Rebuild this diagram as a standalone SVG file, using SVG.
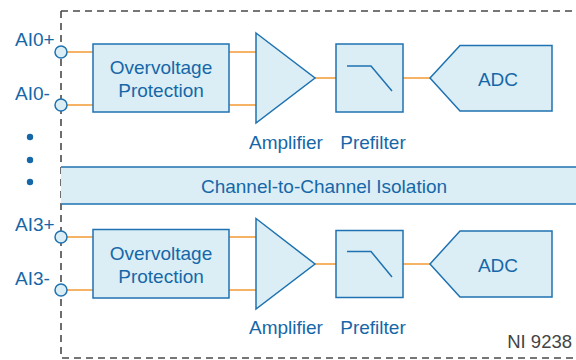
<svg xmlns="http://www.w3.org/2000/svg" width="576" height="360" viewBox="0 0 576 360">
<style>
.blk{fill:#dbeef5;stroke:#1f72b1;stroke-width:1.5}
.wire{stroke:#f39a34;stroke-width:1.5;fill:none}
.term{fill:#dbeef5;stroke:#1f72b1;stroke-width:1.5}
.t{font-family:"Liberation Sans",Arial,sans-serif;font-size:19px;fill:#1667a8}
.c{text-anchor:middle}
.dash{stroke:#4a4a4a;stroke-width:1.6;stroke-dasharray:7 5;fill:none}
.fl{stroke:#1f72b1;stroke-width:1.5;fill:none}
</style>
<rect x="0" y="0" width="576" height="360" fill="#fff"/>
<g id="boundary">
<path class="dash" d="M61,11 H576 M61,11 V358 H576"/>
</g>
<g id="connectors">
<path class="wire" d="M61,52 H93 M61,105 H93 M229,52 H256 M229,105 H256 M315,78 H336 M403,78 H430"/>
<path class="wire" d="M61,237 H93 M61,290 H93 M229,237 H256 M229,290 H256 M315,264 H336 M403,264 H430"/>
</g>
<g id="isolation">
<rect x="61" y="167" width="520" height="37" fill="#dbeef5"/>
<path d="M61,167 H576 M61,204 H576" stroke="#1f72b1" stroke-width="1.5"/>
<text class="t c" x="324" y="193">Channel-to-Channel Isolation</text>
</g>
<g id="dots" fill="#1667a8">
<circle cx="30" cy="137" r="3.2"/>
<circle cx="30" cy="160" r="3.2"/>
<circle cx="30" cy="182" r="3.2"/>
</g>
<g id="ch0">
<g id="ai0p"><text class="t" x="15" y="46">AI0+</text><circle class="term" cx="61" cy="52" r="6"/></g>
<g id="ai0n"><text class="t" x="15" y="100">AI0-</text><circle class="term" cx="61" cy="105" r="6"/></g>
<g id="ovp0"><rect class="blk" x="93" y="44" width="136" height="68"/><text class="t c" x="161" y="74">Overvoltage</text><text class="t c" x="161" y="97">Protection</text></g>
<g id="amp0"><polygon class="blk" points="256,33 315,78 256,123"/><text class="t c" x="286" y="149">Amplifier</text></g>
<g id="pre0"><rect class="blk" x="336" y="44" width="67" height="68"/><path class="fl" d="M347,66 H371 L392,91"/><text class="t c" x="373" y="149">Prefilter</text></g>
<g id="adc0"><polygon class="blk" points="430,78 460,45.5 552,45.5 552,111 460,111"/><text class="t c" x="498" y="86">ADC</text></g>
</g>
<g id="ch3">
<g id="ai3p"><text class="t" x="15" y="231">AI3+</text><circle class="term" cx="61" cy="237" r="6"/></g>
<g id="ai3n"><text class="t" x="15" y="285">AI3-</text><circle class="term" cx="61" cy="290" r="6"/></g>
<g id="ovp3"><rect class="blk" x="93" y="229.5" width="136" height="68.5"/><text class="t c" x="161" y="260">Overvoltage</text><text class="t c" x="161" y="283">Protection</text></g>
<g id="amp3"><polygon class="blk" points="256,218.5 315,264 256,309"/><text class="t c" x="286" y="334">Amplifier</text></g>
<g id="pre3"><rect class="blk" x="336" y="230.5" width="67" height="67"/><path class="fl" d="M347,251.5 H371 L392,277"/><text class="t c" x="373" y="334">Prefilter</text></g>
<g id="adc3"><polygon class="blk" points="430,264 460,231 552,231 552,297 460,297"/><text class="t c" x="498" y="272">ADC</text></g>
</g>
<g id="model"><text x="572" y="348" text-anchor="end" font-family="'Liberation Sans',Arial,sans-serif" font-size="18.5px" fill="#444">NI 9238</text></g>
</svg>
